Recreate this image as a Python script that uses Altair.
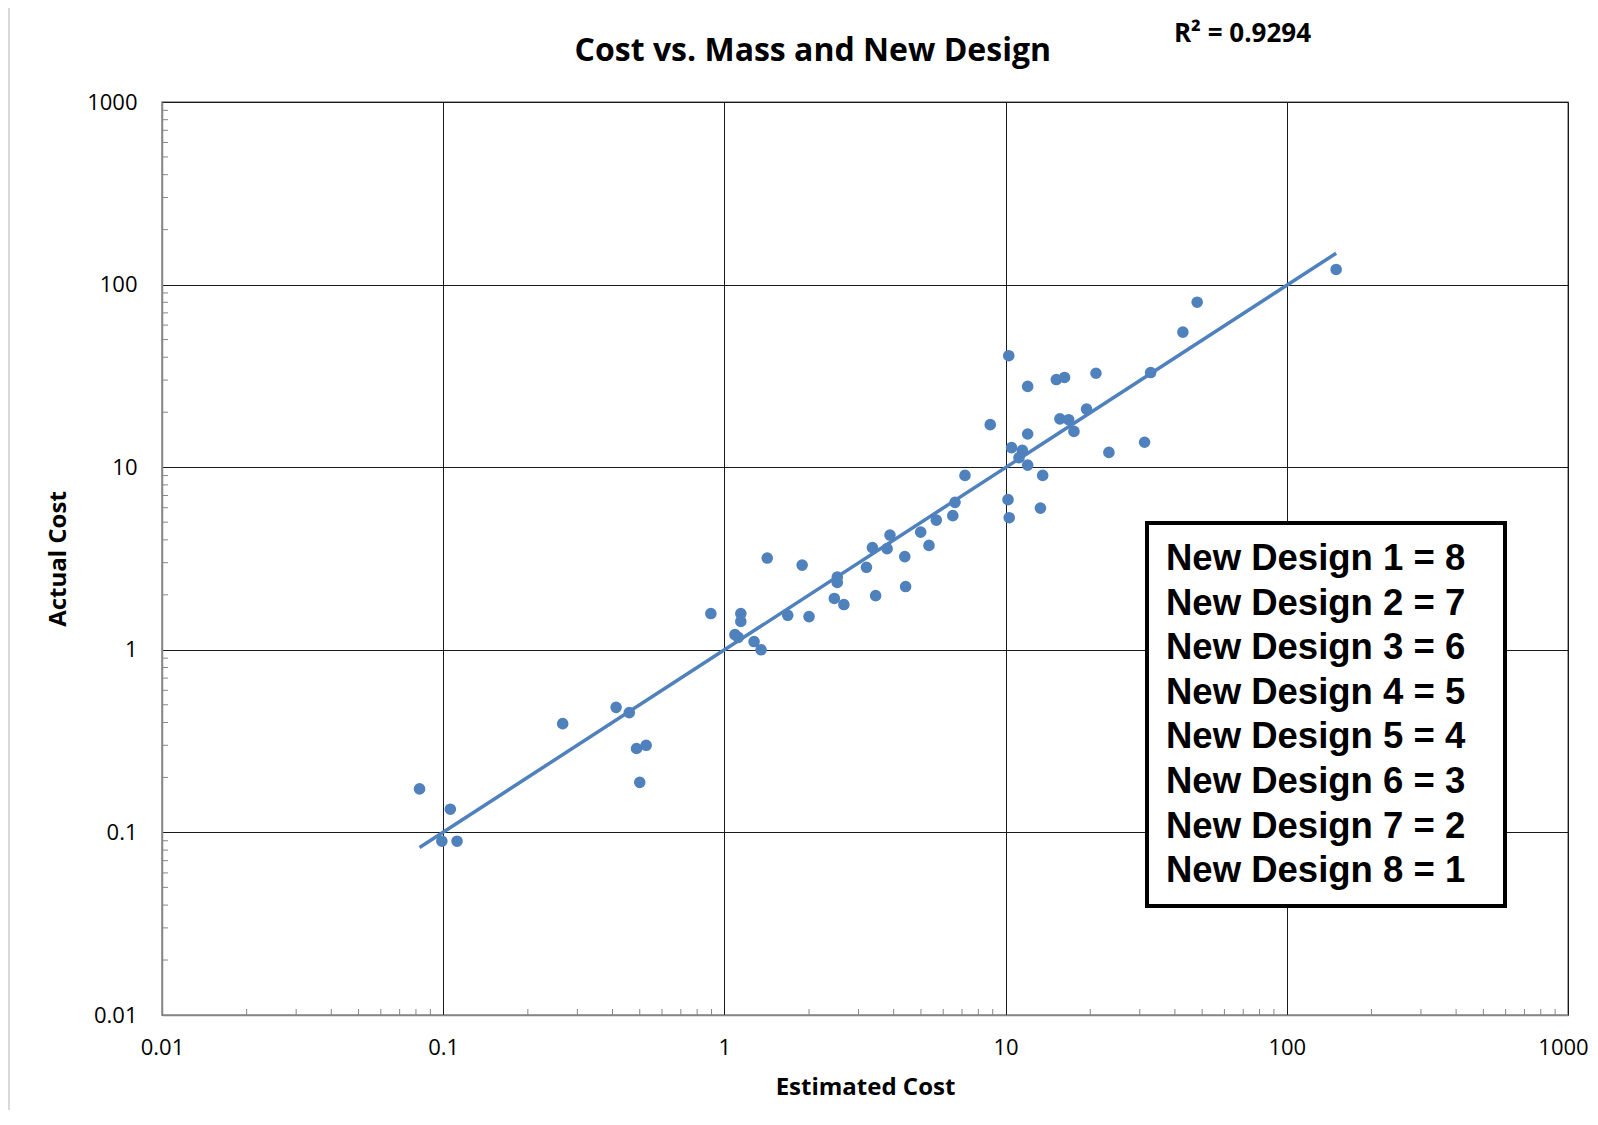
import altair as alt
import pandas as pd

# ---- data ----
est = [0.0824, 0.106, 0.0989, 0.112, 0.266, 0.412, 0.459, 0.487, 0.527, 0.500,
       0.895, 1.144, 1.144, 1.09, 1.12, 1.275, 1.35, 1.42, 1.68, 1.89,
       2.0, 2.46, 2.52, 2.52, 2.66, 3.2, 3.36, 3.45, 3.79, 3.88,
       4.38, 4.41, 4.99, 5.34, 5.67, 6.49, 6.61, 7.17, 8.82, 10.2,
       10.3, 10.26, 10.5, 11.16, 11.47, 11.98, 11.98, 11.98, 13.3, 13.55,
       15.15, 16.2, 15.6, 16.76, 17.5, 19.4, 20.96, 23.3, 31.2, 32.8,
       42.7, 48.0, 149.8]
act = [0.173, 0.134, 0.0895, 0.0895, 0.394, 0.484, 0.453, 0.288, 0.300, 0.188,
       1.58, 1.58, 1.43, 1.21, 1.17, 1.11, 1.00, 3.18, 1.545, 2.91,
       1.52, 1.91, 2.50, 2.34, 1.77, 2.83, 3.63, 1.98, 3.58, 4.25,
       3.24, 2.22, 4.41, 3.73, 5.13, 5.43, 6.42, 9.02, 17.1, 6.64,
       5.29, 40.8, 12.8, 11.27, 12.36, 10.27, 15.2, 27.7, 5.97, 9.02,
       30.2, 31.0, 18.4, 18.2, 15.7, 20.8, 32.7, 12.05, 13.7, 33.0,
       54.9, 80.1, 121]

trend_x = [0.0824, 149.8]
trend_y = [0.0827, 148.5]

major_ticks = [0.01, 0.1, 1, 10, 100, 1000]
minor_ticks = [m * 10.0 ** e for e in range(-2, 3) for m in range(2, 10)]

title_text = "Cost vs. Mass and New Design"
r2_text = "R² = 0.9294"
x_title = "Estimated Cost"
y_title = "Actual Cost"
legend_lines = ["New Design 1 = 8", "New Design 2 = 7", "New Design 3 = 6",
                "New Design 4 = 5", "New Design 5 = 4", "New Design 6 = 3",
                "New Design 7 = 2", "New Design 8 = 1"]

BLUE = "#4F81BD"
W, H = 1406, 913

pts = pd.DataFrame({"est": est, "act": act})
trend = pd.DataFrame({"est": trend_x, "act": trend_y})
minor = pd.DataFrame({"v": minor_ticks})

xscale = alt.Scale(type="log", domain=[0.01, 1000], nice=False)
yscale = alt.Scale(type="log", domain=[0.01, 1000], nice=False)

common_axis = dict(values=major_ticks, format="~g", grid=True, gridColor="#1a1a1a",
                   gridWidth=1, domainColor="#868686", domainWidth=1.5, tickSize=0,
                   labelFont="Open Sans", labelFontSize=22, labelColor="black",
                   labelFlush=False, labelOverlap=False,
                   titleFont="Open Sans", titleFontSize=24, titleFontWeight="bold",
                   titleColor="black")
xaxis = alt.Axis(title=x_title, labelPadding=22, titleY=79, titleX=W / 2,
                 titleBaseline="alphabetic", titleAlign="center",
                 labelOffset=alt.expr("datum.value >= 1000 ? -5 : 0"),
                 **common_axis)
yaxis = alt.Axis(title=y_title, labelPadding=25, titleX=-97, titleY=H / 2,
                 titleAngle=270, titleBaseline="alphabetic", titleAlign="center",
                 **common_axis)

points = alt.Chart(pts).mark_circle(size=135, opacity=1, color=BLUE).encode(
    x=alt.X("est:Q", scale=xscale, axis=xaxis),
    y=alt.Y("act:Q", scale=yscale, axis=yaxis),
)

line = alt.Chart(trend).mark_line(color=BLUE, strokeWidth=3.5).encode(
    x=alt.X("est:Q", scale=xscale, axis=xaxis),
    y=alt.Y("act:Q", scale=yscale, axis=yaxis),
)

xminor = alt.Chart(minor).mark_rule(color="#868686", strokeWidth=1).encode(
    x=alt.X("v:Q", scale=xscale, axis=xaxis),
    y=alt.value(H), y2=alt.value(H - 6),
)
yminor = alt.Chart(minor).mark_rule(color="#868686", strokeWidth=1).encode(
    y=alt.Y("v:Q", scale=yscale, axis=yaxis),
    x=alt.value(0), x2=alt.value(6),
)

one = pd.DataFrame({"t": [title_text]})
title_layer = alt.Chart(one).mark_text(
    font="Open Sans", fontSize=32, fontWeight="bold", align="center",
    baseline="alphabetic", color="black").encode(
    text="t:N", x=alt.value(650.8), y=alt.value(-41))

r2_layer = alt.Chart(pd.DataFrame({"t": [r2_text]})).mark_text(
    font="Open Sans", fontSize=26, fontWeight="bold", align="center",
    baseline="alphabetic", color="black").encode(
    text="t:N", x=alt.value(1080.5), y=alt.value(-60))

box = alt.Chart(pd.DataFrame({"t": ["box"]})).mark_rect(
    fill="white", stroke="black", strokeWidth=4).encode(
    x=alt.value(985), x2=alt.value(1343), y=alt.value(421), y2=alt.value(804))

legend_text = alt.Chart(pd.DataFrame({"t": ["\n".join(legend_lines)]})).mark_text(
    font="Liberation Sans", fontSize=36.5, fontWeight="bold", align="left",
    baseline="alphabetic", lineBreak="\n", lineHeight=44.6, color="black").encode(
    text="t:N", x=alt.value(1004), y=alt.value(468))

frame_top = alt.Chart(pd.DataFrame({"t": ["f"]})).mark_rule(
    color="#d9d9d9", strokeWidth=2).encode(
    x=alt.value(-153), x2=alt.value(W + 40), y=alt.value(-95))
frame_left = alt.Chart(pd.DataFrame({"t": ["f"]})).mark_rule(
    color="#d9d9d9", strokeWidth=2).encode(
    x=alt.value(-153), y=alt.value(-95), y2=alt.value(H + 120))

chart = alt.layer(
    frame_top, frame_left, xminor, yminor, points, line, box, legend_text,
    title_layer, r2_layer
).properties(
    width=W, height=H,
    padding={"left": 154, "top": 94, "right": 22, "bottom": 95},
    autosize=alt.AutoSizeParams(type="none"),
    background="white",
).configure_view(stroke="#868686", strokeWidth=1.5)

chart.save("out.html", embed_options={"renderer": "svg", "actions": False})
